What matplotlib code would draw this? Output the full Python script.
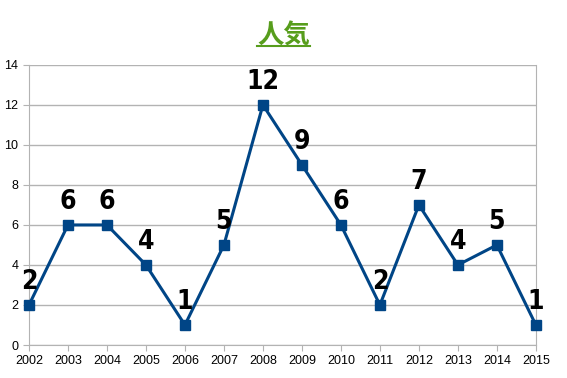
import matplotlib.pyplot as plt
from matplotlib.lines import Line2D

years = [2002, 2003, 2004, 2005, 2006, 2007, 2008, 2009, 2010, 2011, 2012, 2013, 2014, 2015]
values = [2, 6, 6, 4, 1, 5, 12, 9, 6, 2, 7, 4, 5, 1]
yticks = [0, 2, 4, 6, 8, 10, 12, 14]
title = '人気'

line_color = '#004586'
grid_color = '#b3b3b3'

fig = plt.figure(figsize=(5.67, 3.78), dpi=100)
ax = fig.add_axes([0.0511, 0.0873, 0.894, 0.741])

ax.plot(years, values, color=line_color, linewidth=2.2, marker='s', markersize=7,
        markerfacecolor=line_color, markeredgecolor=line_color, zorder=3, clip_on=False)

# data labels above each point
for x, v in zip(years, values):
    ax.annotate(str(v), (x, v), xytext=(0, 7), textcoords='offset points',
                ha='center', va='bottom', fontsize=19, fontweight='bold',
                fontfamily='DejaVu Sans', fontstretch='condensed', color='black')

ax.set_xlim(2002, 2015)
ax.set_ylim(0, 14)
ax.set_xticks(years)
ax.set_yticks(yticks)
ax.yaxis.grid(True, color=grid_color, linewidth=1)
ax.set_axisbelow(True)
ax.spines['top'].set_visible(False)
for s in ['left', 'right', 'bottom']:
    ax.spines[s].set_color(grid_color)
ax.tick_params(axis='both', colors=grid_color, length=4, labelcolor='black', labelsize=9)
for lab in ax.get_xticklabels() + ax.get_yticklabels():
    lab.set_fontfamily('Liberation Sans')

t = fig.text(0.5, 0.905, title, ha='center', va='center', fontsize=19, fontweight='bold',
             color='#579d1c', fontfamily='Noto Sans CJK JP')
fig.canvas.draw()
bb = t.get_window_extent().transformed(fig.transFigure.inverted())
fig.add_artist(Line2D([bb.x0, bb.x1], [bb.y0 + 0.01, bb.y0 + 0.01], color='#579d1c', linewidth=1.5,
                      transform=fig.transFigure))

fig.savefig('out.png', dpi=100)
